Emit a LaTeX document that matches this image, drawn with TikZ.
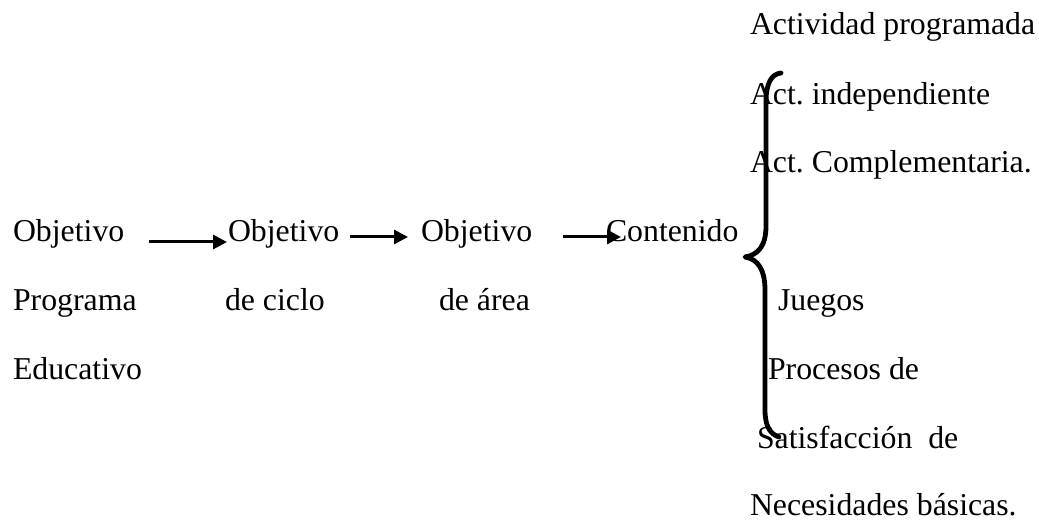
\documentclass[tikz,border=0pt]{standalone}
\usepackage{fontspec}
\setmainfont{Liberation Serif}
\usetikzlibrary{arrows.meta,calc}

\tikzset{
  lbl/.style={anchor=base west, inner sep=0pt, outer sep=0pt,
              font=\fontsize{31.8}{38}\selectfont},
  flow/.style={line width=3pt, -{Triangle[length=14pt,width=14pt]}},
  bracestroke/.style={line width=4.8pt, line cap=round, line join=round}
}

\begin{document}
\frenchspacing
\begin{tikzpicture}[x=1pt, y=-1pt]
  \useasboundingbox (0,0) rectangle (1039,521);

  % chain of objectives
  \node[lbl] (o1)  at (13,242)  {Objetivo};
  \node[lbl] (o1b) at (13,311)  {Programa};
  \node[lbl] (o1c) at (13,379)  {Educativo};

  \node[lbl] (o2)  at (228,242) {Objetivo};
  \node[lbl] (o2b) at (225,311) {de ciclo};

  \node[lbl] (o3)  at (421,242) {Objetivo};
  \node[lbl] (o3b) at (439,311) {de área};

  \node[lbl] (cont) at (606,242) {Contenido};

  % list of activities
  \node[lbl] (a1) at (750,35)  {Actividad programada};
  \node[lbl] (a2) at (750,105) {Act. independiente};
  \node[lbl] (a3) at (750,173) {Act. Complementaria.};
  \node[lbl] (a4) at (778,311) {Juegos};
  \node[lbl] (a5) at (768,379) {Procesos de};
  \node[lbl] (a6) at (757,448) {Satisfacción~~de};
  \node[lbl] (a7) at (750,515) {Necesidades básicas.};

  % arrows between the stages
  \draw[flow] ($(o1.base east)+(25,0)$) -- ($(o2.base west)+(-1,0)$);
  \draw[flow] ($(o2.base east)+(11,-5)$) -- ($(o3.base west)+(-13,-5)$);
  \draw[flow] ($(o3.base east)+(31,-5)$) -- ($(cont.base west)+(15,-5)$);

  % curly brace grouping the activities
  \coordinate (btop) at (781,73);
  \coordinate (btip) at (745,257);
  \coordinate (bbot) at (779,437);
  \draw[bracestroke]
    (btop) .. controls (771,74) and (766,84) .. (766,102)
    -- (766,226) .. controls (766,246) and (758,255) .. (btip)
    .. controls (758,259) and (765,270) .. (765,290)
    -- (765,410) .. controls (765,426) and (770,434) .. (bbot);
\end{tikzpicture}
\end{document}
